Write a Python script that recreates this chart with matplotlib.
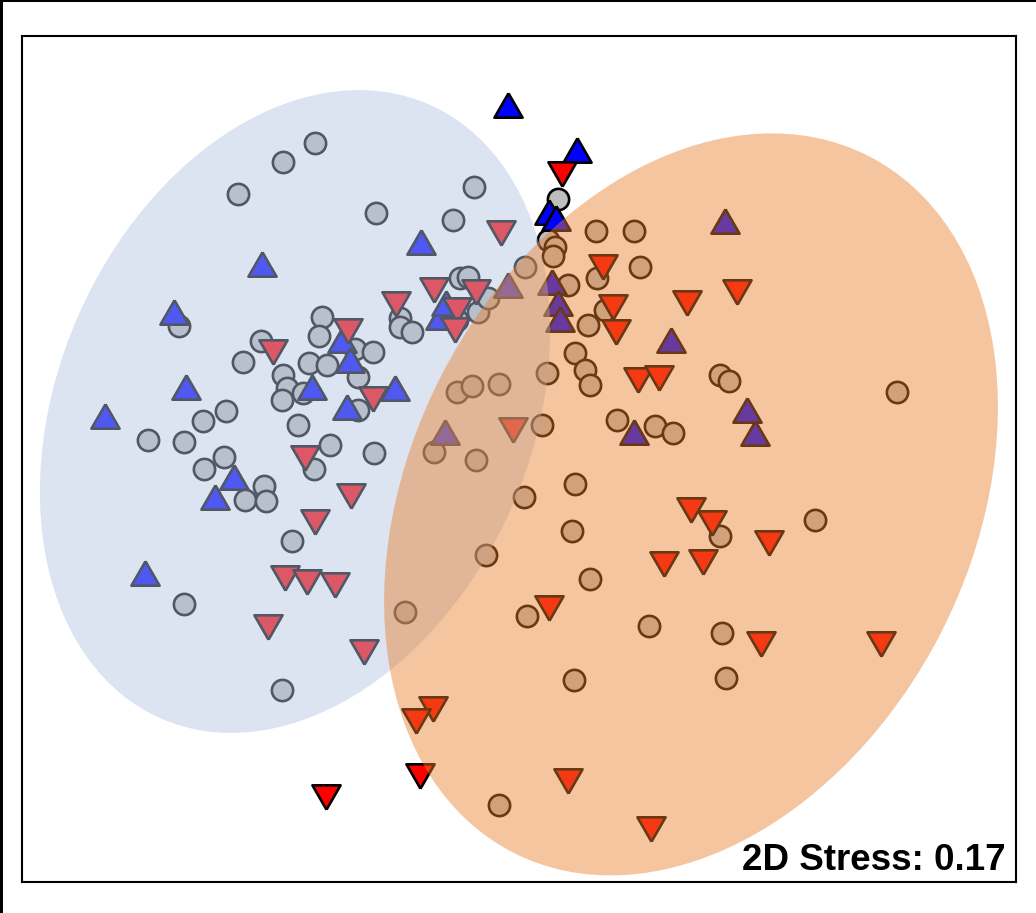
import matplotlib
matplotlib.use("Agg")
import matplotlib.pyplot as plt
from matplotlib.patches import Ellipse
from matplotlib.markers import MarkerStyle
from matplotlib.lines import Line2D
import numpy as np

# ---- data (NMDS coordinates) ----
circ_x = [-0.5125, -0.5925, -0.705, -0.115, -0.36, -0.1675, -0.15, -0.13, -0.8525, -0.495,
          -0.5025, -0.6475, -0.6925, -0.4125, -0.3675, -0.5275, -0.4825, -0.5925, -0.5825, -0.5425,
          -0.595, -0.405, -0.405, -0.555, -0.475, -0.365, -0.515, -0.64, -0.6875, -0.635,
          -0.735, -0.7925, -0.93, -0.84, -0.74, -0.79, -0.57, -0.84, -0.595, -0.30,
          -0.30, -0.27, -0.1575, 0.095, -0.105, -0.08, 0.0125, -0.1575, -0.12, -0.0525,
          -0.215, -0.11, 0.07, 0.0875, 0.0825, 0.12, 0.1925, 0.30, 0.2125, 0.17,
          0.1375, 0.1625, 0.175, 0.0675, 0.055, 0.2425, 0.3375, 0.3825, 0.50, 0.5225,
          0.19, 0.285, 0.9425, 0.01, 0.1375, 0.13, -0.085, 0.175, 0.50, 0.7375,
          -0.2875, 0.0175, 0.3225, 0.505, 0.515, 0.135, -0.0525]
circ_y = [0.7925, 0.745, 0.665, 0.6825, 0.6175, 0.60, 0.455, 0.4575, 0.335, 0.3575,
          0.31, 0.2975, 0.245, 0.2775, 0.27, 0.2425, 0.2375, 0.2125, 0.18, 0.1675,
          0.15, 0.2075, 0.125, 0.0875, 0.0375, 0.0175, -0.0225, -0.065, -0.10, -0.1025,
          0.1225, 0.0975, 0.05, 0.045, 0.0075, -0.0225, -0.2025, -0.36, -0.575, 0.355,
          0.3325, 0.32, 0.35, 0.6525, 0.37, 0.405, 0.4825, 0.17, 0.185, 0.19,
          0.02, 0.0, 0.55, 0.5325, 0.51, 0.4375, 0.455, 0.4825, 0.375, 0.3375,
          0.2675, 0.225, 0.1875, 0.2175, 0.0875, 0.10, 0.085, 0.0675, 0.2125, 0.1975,
          0.5725, 0.5725, 0.17, -0.0925, -0.06, -0.1775, -0.2375, -0.2975, -0.19, -0.15,
          -0.38, -0.39, -0.415, -0.4325, -0.545, -0.55, -0.8625]

up_x = [-0.03, 0.1425, 0.0725, -0.2475, -0.645, -0.865, -0.835, -1.0375, -0.715, -0.7625,
        -0.9375, -0.4325, -0.3125, -0.20, -0.185, -0.445, -0.52, -0.425, 0.09, -0.03,
        0.08, 0.095, 0.10, 0.3775, 0.285, 0.5675, 0.5875, 0.5125, -0.1875]
up_y = [0.8875, 0.775, 0.62, 0.545, 0.49, 0.37, 0.1825, 0.11, -0.0425, -0.0925,
        -0.2825, 0.1325, 0.18, 0.3575, 0.3925, 0.30, 0.1825, 0.25, 0.605, 0.4375,
        0.445, 0.3925, 0.3525, 0.30, 0.07, 0.125, 0.0675, 0.5975, 0.07]

down_x = [0.105, -0.0475, -0.215, -0.31, -0.11, -0.1575, -0.43, -0.6175, -0.3675, -0.5375,
          -0.4225, -0.5125, -0.5875, -0.5325, -0.4625, -0.63, -0.39, -0.1625, -0.0175, 0.2075,
          0.2325, 0.24, 0.4175, 0.5425, 0.295, 0.3475, 0.4275, 0.48, 0.6225, 0.36,
          0.4575, 0.0725, 0.6025, 0.9025, -0.2175, -0.26, -0.25, -0.485, 0.12, 0.3275]
down_y = [0.715, 0.5675, 0.425, 0.39, 0.42, 0.375, 0.3225, 0.27, 0.1525, 0.005,
          -0.09, -0.155, -0.295, -0.305, -0.3125, -0.4175, -0.48, 0.325, 0.075, 0.4825,
          0.3825, 0.32, 0.3925, 0.42, 0.20, 0.205, -0.125, -0.1575, -0.2075, -0.26,
          -0.255, -0.37, -0.46, -0.46, -0.6225, -0.6525, -0.79, -0.8425, -0.8025, -0.9225]

# group ellipses: centre, width, height, angle
ell_blue = dict(xy=(-0.5625, 0.12125), width=1.675, height=1.185, angle=66.5)
ell_orange = dict(xy=(0.4275, -0.111), width=1.955, height=1.405, angle=63.0)

stress_label = "2D Stress: 0.17"

# ---- figure ----
W, H = 1036, 913
fig = plt.figure(figsize=(W / 100, H / 100), dpi=100)
ax = fig.add_axes([22 / W, (H - 882) / H, 994 / W, 846 / H])
ax.set_xlim(-1.245, 1.24)
ax.set_ylim(-1.055, 1.06)
ax.set_xticks([])
ax.set_yticks([])
for s in ax.spines.values():
    s.set_linewidth(1.5)
    s.set_color("black")

tri_up = MarkerStyle([(0, 0.5), (-0.577, -0.5), (0.577, -0.5), (0, 0.5)], joinstyle="miter")
tri_dn = MarkerStyle([(0, -0.5), (-0.577, 0.5), (0.577, 0.5), (0, -0.5)], joinstyle="miter")

lw = 1.9
ax.scatter(circ_x, circ_y, s=234, marker="o", facecolor="#BEBEBE", edgecolor="black",
           linewidth=lw, zorder=2)
ax.scatter(up_x, up_y, s=410, marker=tri_up, facecolor="#0000FF", edgecolor="black",
           linewidth=lw, zorder=2)
ax.scatter(down_x, down_y, s=410, marker=tri_dn, facecolor="#FF0000", edgecolor="black",
           linewidth=lw, zorder=2)

ax.add_patch(Ellipse(**ell_blue, facecolor="#B2C4E3", alpha=0.45, edgecolor="none", zorder=3))
ax.add_patch(Ellipse(**ell_orange, facecolor="#E97F2C", alpha=0.45, edgecolor="none", zorder=4))

ax.text(0.990, 0.0142, stress_label, transform=ax.transAxes, ha="right", va="baseline",
        fontsize=26.5, fontweight="bold", family=["Liberation Sans", "DejaVu Sans"], zorder=5)

# outer figure frame (top and left edges visible)
fig.add_artist(Line2D([0, 1], [1, 1], transform=fig.transFigure, color="black", linewidth=2.9))
fig.add_artist(Line2D([0, 0], [0, 1], transform=fig.transFigure, color="black", linewidth=4.3))

fig.savefig("out.png", dpi=100)
